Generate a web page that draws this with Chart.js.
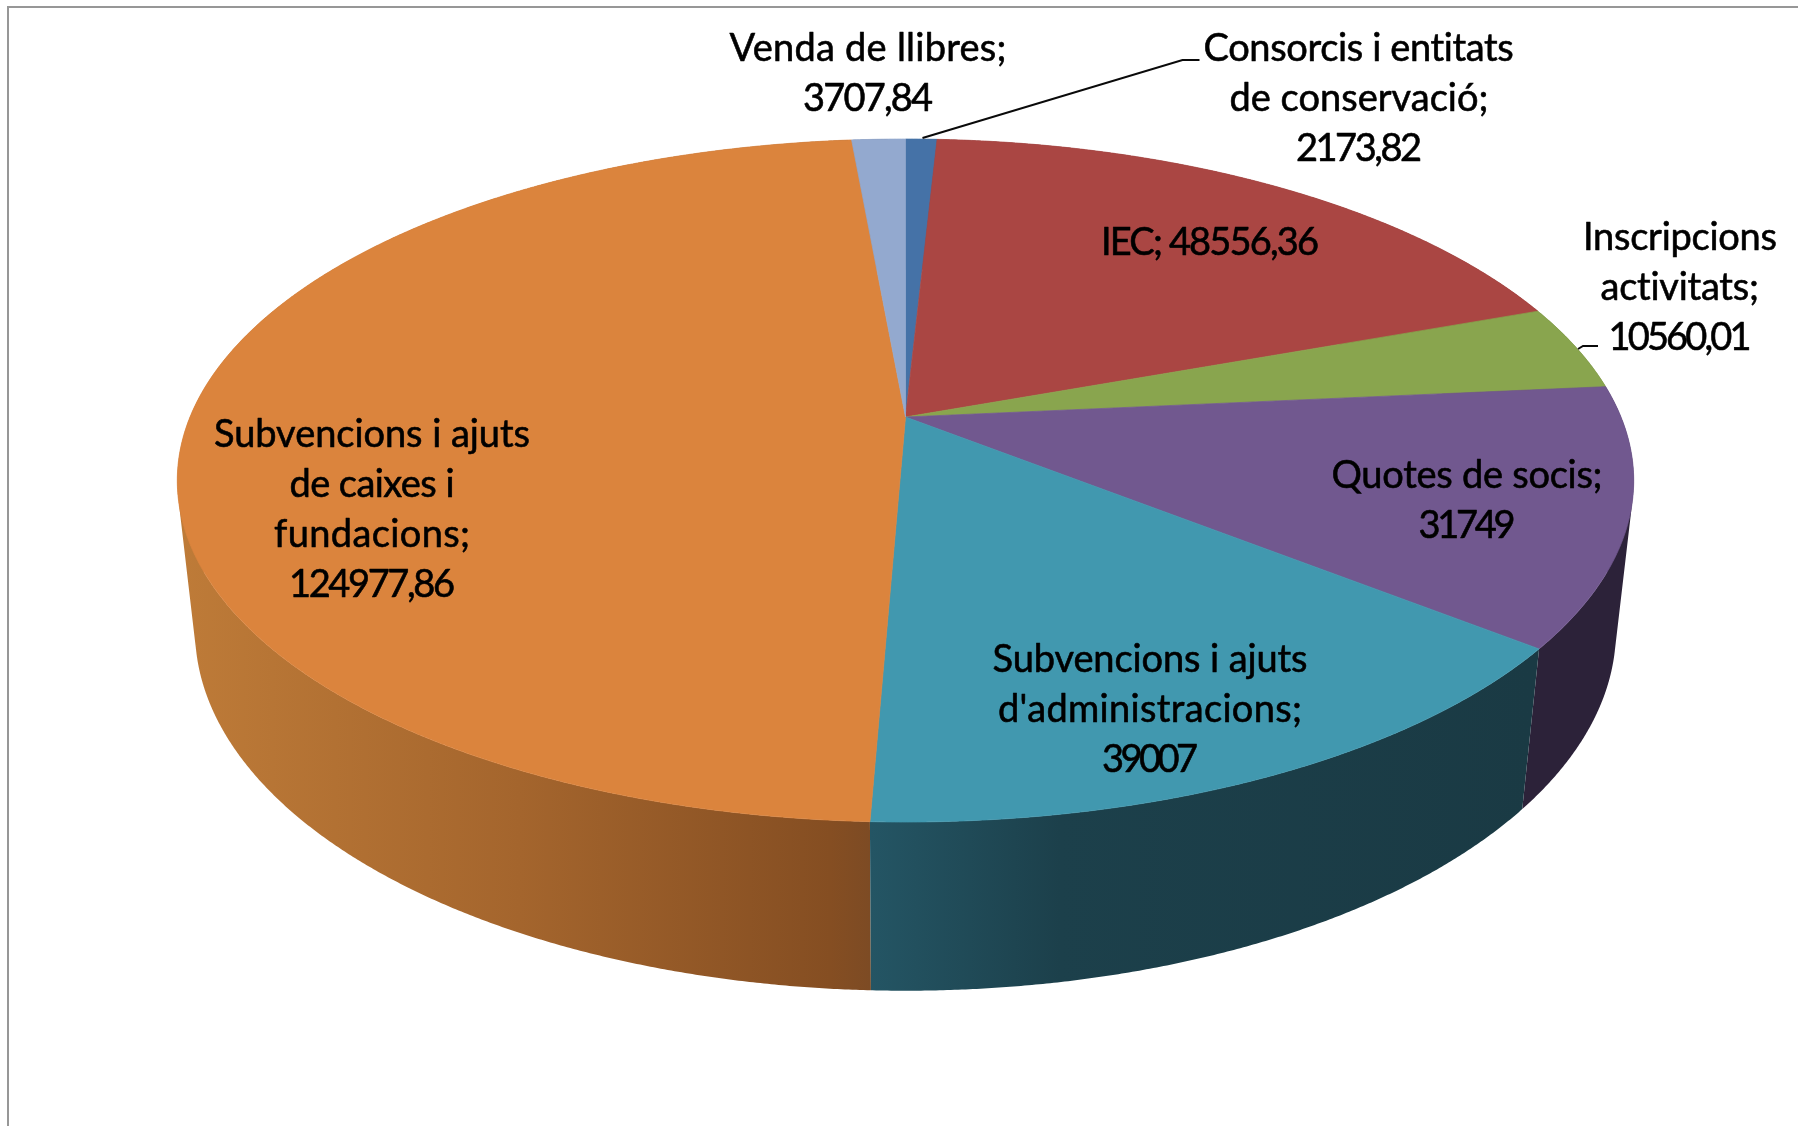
<!DOCTYPE html>
<html>
<head>
<meta charset="utf-8">
<style>html,body{margin:0;padding:0;background:#fff}canvas{display:block}</style>
<script src="https://cdn.jsdelivr.net/npm/chart.js@4"></script>
</head>
<body>
<canvas id="c" width="1798" height="1126"></canvas>
<script>
const categories = ["Consorcis i entitats de conservació","IEC","Inscripcions activitats","Quotes de socis","Subvencions i ajuts d'administracions","Subvencions i ajuts de caixes i fundacions","Venda de llibres"];
const values = [2173.82,48556.36,10560.01,31749,39007,124977.86,3707.84];
const topColors = ["#4572A7","#AA4643","#89A54E","#71588F","#4198AF","#DB843D","#93A9CF"];

// side-wall shading per slice: [x, colour] stops
const wallStops = [
  [[0,"#2A4464"]],
  [[0,"#652A28"]],
  [[0,"#51622E"]],
  [[0,"#2C2239"]],
  [[871,"#245564"],[1060,"#1C404B"],[1530,"#1A3A44"]],
  [[180,"#BE7B38"],[520,"#A4652D"],[830,"#854E22"],[870,"#7D4B24"]],
  [[0,"#576580"]]
];

// label text, centre x, first baseline, fitted line widths
const labels = [
  {lines:["Consorcis i entitats","de conservació;","2173,82"],x:1359,y:61,w:[311,259,126]},
  {lines:["IEC; 48556,36"],x:1210,y:255,w:[218]},
  {lines:["Inscripcions","activitats;","10560,01"],x:1680,y:250,w:[194,159,143]},
  {lines:["Quotes de socis;","31749"],x:1467,y:488,w:[271,97]},
  {lines:["Subvencions i ajuts","d'administracions;","39007"],x:1150,y:672,w:[315,304,96]},
  {lines:["Subvencions i ajuts","de caixes i","fundacions;","124977,86"],x:372,y:447,w:[316,165,196,166]},
  {lines:["Venda de llibres;","3707,84"],x:868,y:61,w:[277,130]}
];
const leaderLines = [
  [[922.5,138],[1182.5,60],[1199.5,60]],
  [[1578,349],[1583,346],[1598,346]]
];

// projection of the tilted disc
const P = {x0:905.5,y0:417,a:329.7,b:715.5,p:-0.186,vpx:905,vpy:6700,s:0.02405};
function project(theta, wall){
  const u = Math.sin(theta), v = -Math.cos(theta), W = 1+P.p*v;
  let x = P.x0+P.b*u/W, y = P.y0+P.a*v/W;
  if(wall){ const k = P.s/(W+P.s); x += (P.vpx-x)*k; y += (P.vpy-y)*k; }
  return [x,y];
}
const STEP = 0.25*Math.PI/180;
function angles(a,b){ const r=[]; for(let t=a;t<b;t+=STEP) r.push(t); r.push(b); return r; }

const disc3d = {
  id:'disc3d',
  beforeDatasetDraw(chart,args){
    const ctx = chart.ctx, arcs = chart.getDatasetMeta(args.index).data;
    const range = arcs.map(e=>{const q=e.getProps(['startAngle','endAngle'],true);return [q.startAngle+Math.PI/2,q.endAngle+Math.PI/2];});
    ctx.save();
    // side walls, far slices first
    const order = arcs.map((_,i)=>i).sort((i,j)=>{
      const mv=k=>-Math.cos((range[k][0]+range[k][1])/2); return mv(i)-mv(j);});
    order.forEach(i=>{
      const g = ctx.createLinearGradient(0,0,1798,0);
      wallStops[i].forEach(s=>g.addColorStop(s[0]/1798,s[1]));
      ctx.fillStyle = g;
      ctx.beginPath();
      const ts = angles(range[i][0],range[i][1]);
      for(let n=0;n<ts.length-1;n++){
        const A=project(ts[n]),B=project(ts[n+1]),C=project(ts[n+1],true),D=project(ts[n],true);
        let q=[A,B,C,D];
        let area=0; for(let m=0;m<4;m++){const r=q[m],o=q[(m+1)%4];area+=r[0]*o[1]-o[0]*r[1];}
        if(area<0) q=q.reverse();
        ctx.moveTo(q[0][0],q[0][1]); for(let m=1;m<4;m++) ctx.lineTo(q[m][0],q[m][1]); ctx.closePath();
      }
      ctx.fill('nonzero');
    });
    // top face
    arcs.forEach((e,i)=>{
      ctx.beginPath(); ctx.moveTo(P.x0,P.y0);
      angles(range[i][0],range[i][1]).forEach(t=>{const q=project(t);ctx.lineTo(q[0],q[1]);});
      ctx.closePath();
      ctx.fillStyle = e.options.backgroundColor; ctx.fill();
      ctx.strokeStyle = e.options.backgroundColor; ctx.lineWidth = 0.7; ctx.stroke();
    });
    ctx.restore();
    return false;
  },
  afterDraw(chart){
    const ctx = chart.ctx;
    ctx.save();
    // frame
    ctx.strokeStyle="#979797"; ctx.lineWidth=2;
    ctx.beginPath(); ctx.moveTo(8,1126); ctx.lineTo(8,7); ctx.lineTo(1798,7); ctx.stroke();
    // leaders
    ctx.strokeStyle="#0a0a0a"; ctx.lineWidth=2;
    leaderLines.forEach(l=>{ctx.beginPath();l.forEach((p,i)=>i?ctx.lineTo(p[0],p[1]):ctx.moveTo(p[0],p[1]));ctx.stroke();});
    // labels
    ctx.fillStyle="#000"; ctx.strokeStyle="#000"; ctx.lineWidth=0.6; ctx.lineJoin="round";
    ctx.textAlign="left"; ctx.textBaseline="alphabetic";
    ctx.font='38px Lato';
    labels.forEach(l=>l.lines.forEach((s,n)=>{
      ctx.letterSpacing='0px';
      const m=ctx.measureText(s).width;
      const sp=(l.w[n]-m)/(s.length-1);
      ctx.letterSpacing=sp.toFixed(3)+'px';
      ctx.fillText(s,l.x-l.w[n]/2,l.y+n*50);
      ctx.strokeText(s,l.x-l.w[n]/2,l.y+n*50);
    }));
    ctx.restore();
  }
};

new Chart(document.getElementById('c'),{
  type:'pie',
  data:{labels:categories,datasets:[{data:values,backgroundColor:topColors,borderWidth:0}]},
  options:{responsive:false,animation:false,
    plugins:{legend:{display:false},tooltip:{enabled:false},title:{display:false}}},
  plugins:[disc3d]
});
</script>
</body>
</html>
